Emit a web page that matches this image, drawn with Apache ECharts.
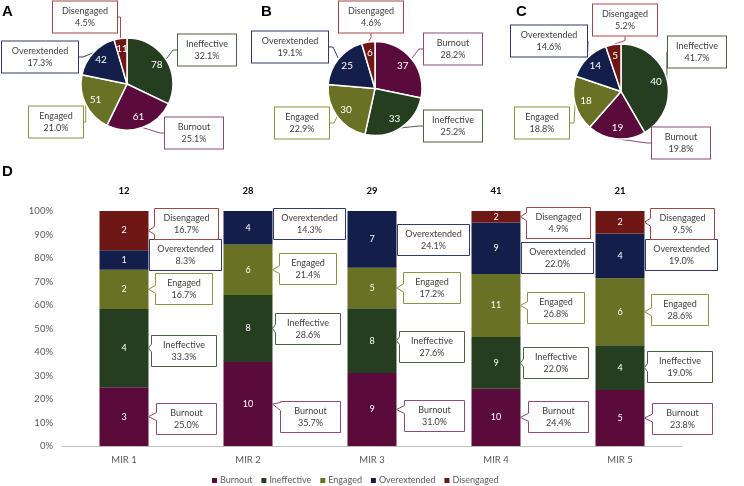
<!DOCTYPE html>
<html>
<head>
<meta charset="utf-8">
<script src="https://cdn.jsdelivr.net/npm/echarts@6/dist/echarts.min.js"></script>
<style>html,body{margin:0;padding:0;background:#fff}#c{width:744px;height:486px}</style>
</head>
<body>
<div id="c"></div>
<script>
// ---------- DATA ----------
const categories = ['MIR 1', 'MIR 2', 'MIR 3', 'MIR 4', 'MIR 5'];
const groups = ['Burnout', 'Ineffective', 'Engaged', 'Overextended', 'Disengaged'];
const burnout = [3, 10, 9, 10, 5];
const ineffective = [4, 8, 8, 9, 4];
const engaged = [2, 6, 5, 11, 6];
const overextended = [1, 4, 7, 9, 4];
const disengaged = [2, 0, 0, 2, 2];

const pieANames = ['Ineffective', 'Burnout', 'Engaged', 'Overextended', 'Disengaged'];
const pieAValues = [78, 61, 51, 42, 11];
const pieBNames = ['Burnout', 'Ineffective', 'Engaged', 'Overextended', 'Disengaged'];
const pieBValues = [37, 33, 30, 25, 6];
const pieCNames = ['Ineffective', 'Burnout', 'Engaged', 'Overextended', 'Disengaged'];
const pieCValues = [40, 19, 18, 14, 5];

const panelLetters = ['A', 'B', 'C', 'D'];

// ---------- STYLE / LAYOUT ----------
const FONT = 'Lato, "Liberation Sans", sans-serif';
const fill = {Burnout:'#5a0b3c', Ineffective:'#253e1f', Engaged:'#687124', Overextended:'#141e4a', Disengaged:'#6e1715'};
const edge = {Burnout:'#8c4a78', Ineffective:'#4a6441', Engaged:'#8a9440', Overextended:'#2f3b68', Disengaged:'#a04848'};
const pieCenters = [[127, 84], [375, 88.5], [621, 91.5]];
const pieRadius = [46, 47, 47.5];
const pieBoxPos = [
  {Ineffective:[207,50], Burnout:[194,133], Engaged:[56,122], Overextended:[40,57], Disengaged:[85,17]},
  {Burnout:[453,49], Ineffective:[453,126], Engaged:[302,123], Overextended:[290,47], Disengaged:[371,17]},
  {Ineffective:[697,52], Burnout:[681,143], Engaged:[542,123], Overextended:[549,41], Disengaged:[625,20]}
];
const pieBoxW = {Burnout:58, Ineffective:58, Engaged:54, Overextended:76, Disengaged:64};
const barFrac = 0.395;
const calloutW = {Burnout:60, Ineffective:65, Engaged:57, Overextended:72, Disengaged:64};
const calloutGap = {Burnout:8, Ineffective:3, Engaged:7, Overextended:1, Disengaged:6};
const calloutShift = [ // px shift of each callout box, [mir][group]
  [2, 2, -1, -5.5, -7.5],
  [12, 0, -1, -4.5, 0],
  [6, 6, 0, 0, 0],
  [-1, 0, 1.5, 9, 6],
  [0, -1, -2.5, -1, 1]
];

// ---------- DERIVED ----------
const counts = [burnout, ineffective, engaged, overextended, disengaged];
const totals = categories.map((c, i) => counts.reduce((s, a) => s + a[i], 0));
const pct = counts.map(a => a.map((v, i) => v / totals[i] * 100));

const chart = echarts.init(document.getElementById('c'));

const series = [];

// stacked bars
groups.forEach((g, s) => {
  series.push({
    name: g, type: 'bar', stack: 'all', barWidth: (barFrac * 100) + '%',
    xAxisIndex: 0, yAxisIndex: 0,
    itemStyle: {color: fill[g]},
    data: pct[s],
    label: {
      show: true, position: 'inside', color: '#fff', fontSize: 9, fontFamily: FONT,
      formatter: p => counts[s][p.dataIndex] ? String(counts[s][p.dataIndex]) : ''
    }
  });
});

// callout boxes for bars
const calloutData = [];
categories.forEach((c, i) => {
  let base = 0;
  groups.forEach((g, s) => {
    const v = pct[s][i];
    if (counts[s][i] > 0) calloutData.push([i, base + v / 2, s, calloutShift[i][s]]);
    base += v;
  });
});
series.push({
  type: 'custom', xAxisIndex: 0, yAxisIndex: 0, clip: false, silent: true, z: 5,
  encode: {x: 0, y: 1},
  data: calloutData,
  renderItem: (params, api) => {
    const cat = api.value(0), yc = api.value(1), s = api.value(2), dy = api.value(3);
    const g = groups[s];
    const p = api.coord([cat, yc]);
    const band = api.size([1, 0])[0];
    const barRight = p[0] + band * barFrac / 2;
    const w = calloutW[g], h = 31;
    const L = Math.round(barRight + calloutGap[g]) + 0.5, R = L + w;
    const T = Math.round(p[1] + dy - h / 2) + 0.5, B = T + h;
    const tx = barRight, ty = p[1];
    let pts;
    if (L - tx > 2) {
      const by = Math.max(T + 5, Math.min(B - 5, ty));
      pts = [[L, T], [R, T], [R, B], [L, B], [L, by + 4], [tx, ty], [L, by - 4]];
    } else {
      pts = [[L, T], [R, T], [R, B], [L, B]];
    }
    const txt = g + '\n' + pct[s][cat].toFixed(1) + '%';
    return {
      type: 'group',
      children: [
        {type: 'polygon', shape: {points: pts}, style: {fill: '#fff', stroke: edge[g], lineWidth: 1}},
        {type: 'text', style: {text: txt, x: (L + R) / 2, y: (T + B) / 2, align: 'center', verticalAlign: 'middle',
          fill: '#404040', font: '9px ' + FONT, lineHeight: 12.5}}
      ]
    };
  }
});

// pies
const pies = [[pieANames, pieAValues], [pieBNames, pieBValues], [pieCNames, pieCValues]];
pies.forEach(([names, vals], k) => {
  const sum = vals.reduce((a, b) => a + b, 0);
  series.push({
    type: 'pie', center: pieCenters[k], radius: pieRadius[k], startAngle: 90, clockwise: true,
    avoidLabelOverlap: false, silent: true,
    itemStyle: {borderColor: '#fff', borderWidth: 1.5},
    data: names.map((n, j) => ({
      name: n, value: vals[j], itemStyle: {color: fill[n]},
      label: {borderColor: edge[n], width: pieBoxW[n]},
      labelLine: {lineStyle: {color: edge[n]}}
    })),
    label: {
      show: true, position: 'outside', color: '#404040', fontSize: 9, fontFamily: FONT, lineHeight: 12.5,
      backgroundColor: '#fff', borderWidth: 1, padding: [3, 0, 3, 0], align: 'center',
      formatter: p => p.name + '\n' + (p.value / sum * 100).toFixed(1) + '%'
    },
    labelLine: {show: true, length: 4, length2: 4, lineStyle: {width: 1}},
    labelLayout: params => {
      const n = names[params.dataIndex];
      const pos = pieBoxPos[k][n];
      return {x: pos[0], y: pos[1], align: 'center', verticalAlign: 'middle'};
    }
  });
  series.push({
    type: 'pie', center: pieCenters[k], radius: pieRadius[k] * 1.4, startAngle: 90, clockwise: true,
    silent: true, z: 3,
    itemStyle: {color: 'rgba(0,0,0,0)', borderWidth: 0},
    data: names.map((n, j) => ({name: n + ' ', value: vals[j]})),
    label: {show: true, position: 'inside', color: '#fff', fontSize: 10, fontFamily: FONT, formatter: p => String(p.value)},
    labelLine: {show: false}
  });
});

const titlePos = [[2, 4], [261, 4], [516, 4], [2, 164]];
const option = {
  animation: false,
  title: panelLetters.map((t, i) => ({
    text: t, left: titlePos[i][0], top: titlePos[i][1], padding: 0,
    textStyle: {fontSize: 15, fontWeight: 'bold', color: '#000', fontFamily: '"Liberation Sans", Arial, sans-serif'}
  })),
  legend: {
    data: groups, top: 476, left: 212, padding: 0, icon: 'rect', itemWidth: 5, itemHeight: 5, itemGap: 9,
    textStyle: {color: '#595959', fontSize: 9, fontFamily: FONT, padding: [0, 0, 0, -2]}
  },
  grid: {left: 62, right: 62, top: 211, bottom: 40},
  xAxis: [
    {type: 'category', data: categories, axisTick: {show: false},
     axisLine: {lineStyle: {color: '#bfbfbf'}},
     axisLabel: {color: '#595959', fontSize: 9.5, fontFamily: FONT, margin: 9}},
    {type: 'category', position: 'top', data: totals.map(String), axisTick: {show: false},
     axisLine: {show: false},
     axisLabel: {color: '#000', fontSize: 9.5, fontWeight: 'bold', fontFamily: FONT, margin: 15}}
  ],
  yAxis: {type: 'value', min: 0, max: 100, interval: 10,
    axisLine: {show: false}, axisTick: {show: false}, splitLine: {show: false},
    axisLabel: {formatter: '{value}%', color: '#595959', fontSize: 9.5, fontFamily: FONT, margin: 9}},
  series: series
};
chart.setOption(option);
</script>
</body>
</html>
